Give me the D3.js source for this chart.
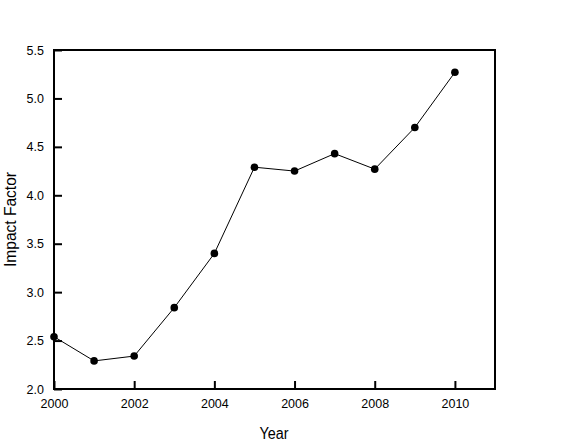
<!DOCTYPE html>
<html><head><meta charset="utf-8">
<script src="https://cdn.jsdelivr.net/npm/d3@7"></script>
<style>
html,body{margin:0;padding:0;background:#fff;}
svg{display:block;}
text{font-family:"Liberation Sans",Arial,sans-serif;fill:#000;}
</style></head>
<body>
<svg id="chart" width="573" height="443"></svg>
<script>
const years = [2000, 2001, 2002, 2003, 2004, 2005, 2006, 2007, 2008, 2009, 2010];
const impactFactor = [2.54, 2.29, 2.34, 2.84, 3.40, 4.29, 4.25, 4.43, 4.27, 4.70, 5.27];
const xTicks = [2000, 2002, 2004, 2006, 2008, 2010];
const yTicks = [2.0, 2.5, 3.0, 3.5, 4.0, 4.5, 5.0, 5.5];
const xTitle = "Year";
const yTitle = "Impact Factor";

const svg = d3.select("#chart");
const L = 54, R = 495, T = 50, B = 389;
const x = d3.scaleLinear().domain([2000, 2011]).range([L, R]);
const y = d3.scaleLinear().domain([2.0, 5.5]).range([B, T]);

// frame
svg.append("rect").attr("x", L).attr("y", T).attr("width", R - L).attr("height", B - T)
  .attr("fill", "none").attr("stroke", "#000").attr("stroke-width", 2);

// axes
const xAxis = d3.axisBottom(x).tickValues(xTicks).tickFormat(d3.format("d")).tickSizeInner(-8).tickSizeOuter(0).tickPadding(10);
const gx = svg.append("g").attr("transform", `translate(0,${B})`).call(xAxis);
gx.select(".domain").remove();
gx.selectAll(".tick line").attr("stroke", "#000").attr("stroke-width", 2);
gx.selectAll(".tick text").attr("font-size", 12.5);

const yAxis = d3.axisLeft(y).tickValues(yTicks).tickFormat(d3.format(".1f")).tickSizeInner(-8).tickSizeOuter(0).tickPadding(10);
const gy = svg.append("g").attr("transform", `translate(${L},0)`).call(yAxis);
gy.select(".domain").remove();
gy.selectAll(".tick line").attr("stroke", "#000").attr("stroke-width", 2);
gy.selectAll(".tick text").attr("font-size", 12.5);
svg.selectAll("g").attr("font-family", null).attr("font-size", null);

// line
const data = years.map((yr, i) => ({yr, v: impactFactor[i]}));
svg.append("path").datum(data)
  .attr("fill", "none").attr("stroke", "#000").attr("stroke-width", 1)
  .attr("d", d3.line().x(d => x(d.yr)).y(d => y(d.v)));
svg.selectAll("circle.pt").data(data).enter().append("circle")
  .attr("class", "pt").attr("cx", d => x(d.yr)).attr("cy", d => y(d.v)).attr("r", 3.8).attr("fill", "#000");

// titles
svg.append("text").attr("x", 274).attr("y", 438.5).attr("text-anchor", "middle")
  .attr("font-size", 16).attr("textLength", 29).attr("lengthAdjust", "spacingAndGlyphs").text(xTitle);
svg.append("text").attr("transform", `translate(16,219.5) rotate(-90)`).attr("text-anchor", "middle")
  .attr("font-size", 16).attr("textLength", 95).attr("lengthAdjust", "spacingAndGlyphs").text(yTitle);
</script>
</body></html>
